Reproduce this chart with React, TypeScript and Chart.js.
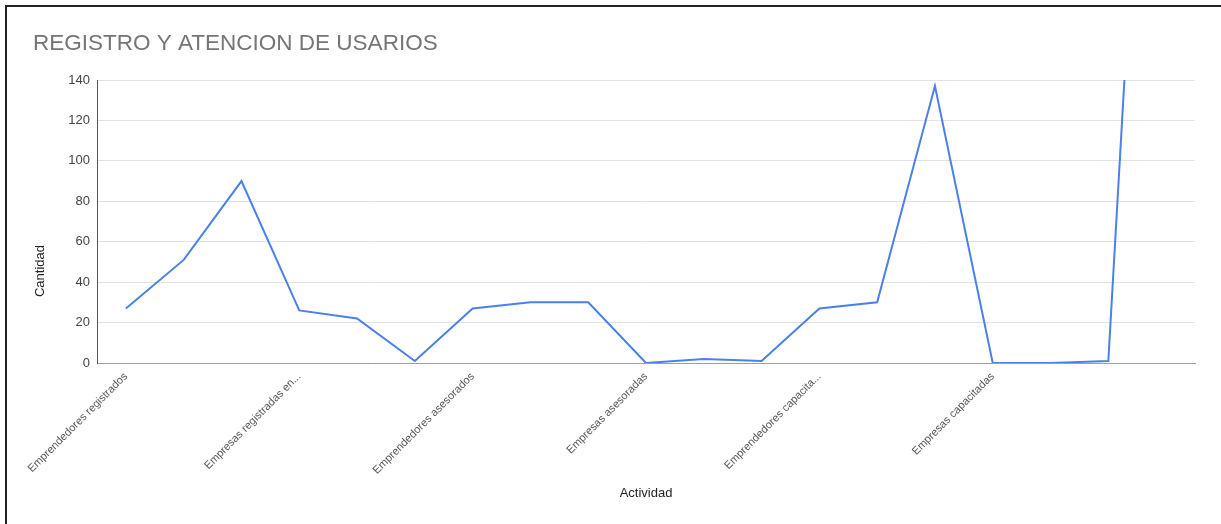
import React, { useEffect, useRef } from "react";
import { Chart, registerables } from "chart.js";

Chart.register(...registerables);

const chartTitle = "REGISTRO Y ATENCION DE USARIOS";
const xAxisTitle = "Actividad";
const yAxisTitle = "Cantidad";

const categories = [
  "Emprendedores registrados",
  "Emprendedores registrados mujeres",
  "Emprendedores registrados hombres",
  "Empresas registradas en...",
  "Empresas registradas mujeres",
  "Empresas registradas hombres",
  "Emprendedores asesorados",
  "Emprendedores asesorados mujeres",
  "Emprendedores asesorados hombres",
  "Empresas asesoradas",
  "Empresas asesoradas mujeres",
  "Empresas asesoradas hombres",
  "Emprendedores capacita...",
  "Emprendedores capacitados mujeres",
  "Emprendedores capacitados hombres",
  "Empresas capacitadas",
  "Empresas capacitadas mujeres",
  "Empresas capacitadas hombres",
  "Usuarios atendidos",
];

const cantidad = [27, 51, 90, 26, 22, 1, 27, 30, 30, 0, 2, 1, 27, 30, 137, 0, 0, 1, 500];

const shownLabelIndexes = [0, 3, 6, 9, 12, 15];

const yMin = 0;
const yMax = 140;
const yStep = 20;

const FONT = "Arial, 'Liberation Sans', sans-serif";

const yTitlePlugin = {
  id: "yTitleText",
  afterDraw(chart: any) {
    const { ctx, chartArea } = chart;
    ctx.save();
    // place the y-axis title a little below the vertical centre, like the reference
    const cy = chartArea.top + (chartArea.bottom - chartArea.top) * 0.675;
    ctx.translate(40, cy);
    ctx.rotate(-Math.PI / 2);
    ctx.textAlign = "center";
    ctx.textBaseline = "middle";
    ctx.fillStyle = "#222";
    ctx.font = `13px ${FONT}`;
    ctx.fillText(yAxisTitle, 0, 0);
    ctx.restore();
  },
};

export default function App() {
  const canvasRef = useRef<HTMLCanvasElement | null>(null);

  useEffect(() => {
    const canvas = canvasRef.current;
    if (!canvas) return;
    const chart = new Chart(canvas, {
      type: "line",
      data: {
        labels: categories,
        datasets: [
          {
            label: yAxisTitle,
            data: cantidad,
            borderColor: "#4a80e8",
            backgroundColor: "#4a80e8",
            borderWidth: 2,
            pointRadius: 0,
            pointHoverRadius: 0,
            tension: 0,
            fill: false,
          },
        ],
      },
      plugins: [yTitlePlugin],
      options: {
        responsive: false,
        animation: false,
        layout: { padding: { left: 33, right: 26, top: 17, bottom: 16 } },
        plugins: {
          legend: { display: false },
          tooltip: { enabled: false },
          title: {
            display: true,
            text: chartTitle,
            align: "start",
            color: "#757575",
            font: { family: FONT, size: 22.5, weight: "normal" },
            padding: { top: 13, bottom: 23 },
          },
        },
        scales: {
          x: {
            type: "category",
            offset: true,
            grid: { display: false, drawTicks: false },
            border: { display: true, color: "#9e9e9e", width: 1 },
            ticks: {
              autoSkip: false,
              minRotation: 45,
              maxRotation: 45,
              padding: 7,
              color: "#555",
              font: { family: FONT, size: 11 },
              callback: (_v: any, i: number) =>
                shownLabelIndexes.includes(i) ? categories[i] : "",
            },
            title: {
              display: true,
              text: xAxisTitle,
              color: "#222",
              font: { family: FONT, size: 13 },
              padding: { top: 0, bottom: 6.4 },
            },
            afterFit: (scale: any) => {
              scale.height = 145;
            },
          },
          y: {
            min: yMin,
            max: yMax,
            ticks: {
              stepSize: yStep,
              padding: 7,
              color: "#444",
              font: { family: FONT, size: 13 },
            },
            grid: { color: "#e3e3e3", drawTicks: false, lineWidth: 1 },
            border: { display: true, color: "#555", width: 1 },
            title: { display: false },
            afterFit: (scale: any) => {
              scale.width = 64;
            },
          },
        },
      },
    });
    return () => chart.destroy();
  }, []);

  return (
    <div
      style={{
        position: "fixed",
        left: 0,
        top: 0,
        width: 1221,
        height: 524,
        overflow: "hidden",
        background: "#fff",
      }}
    >
      <div
        style={{
          position: "absolute",
          left: 5,
          top: 5,
          width: 1300,
          height: 600,
          border: "2px solid #222",
        }}
      />
      <canvas
        ref={canvasRef}
        width={1221}
        height={524}
        style={{ position: "absolute", left: 0, top: 0, width: 1221, height: 524 }}
      />
    </div>
  );
}
